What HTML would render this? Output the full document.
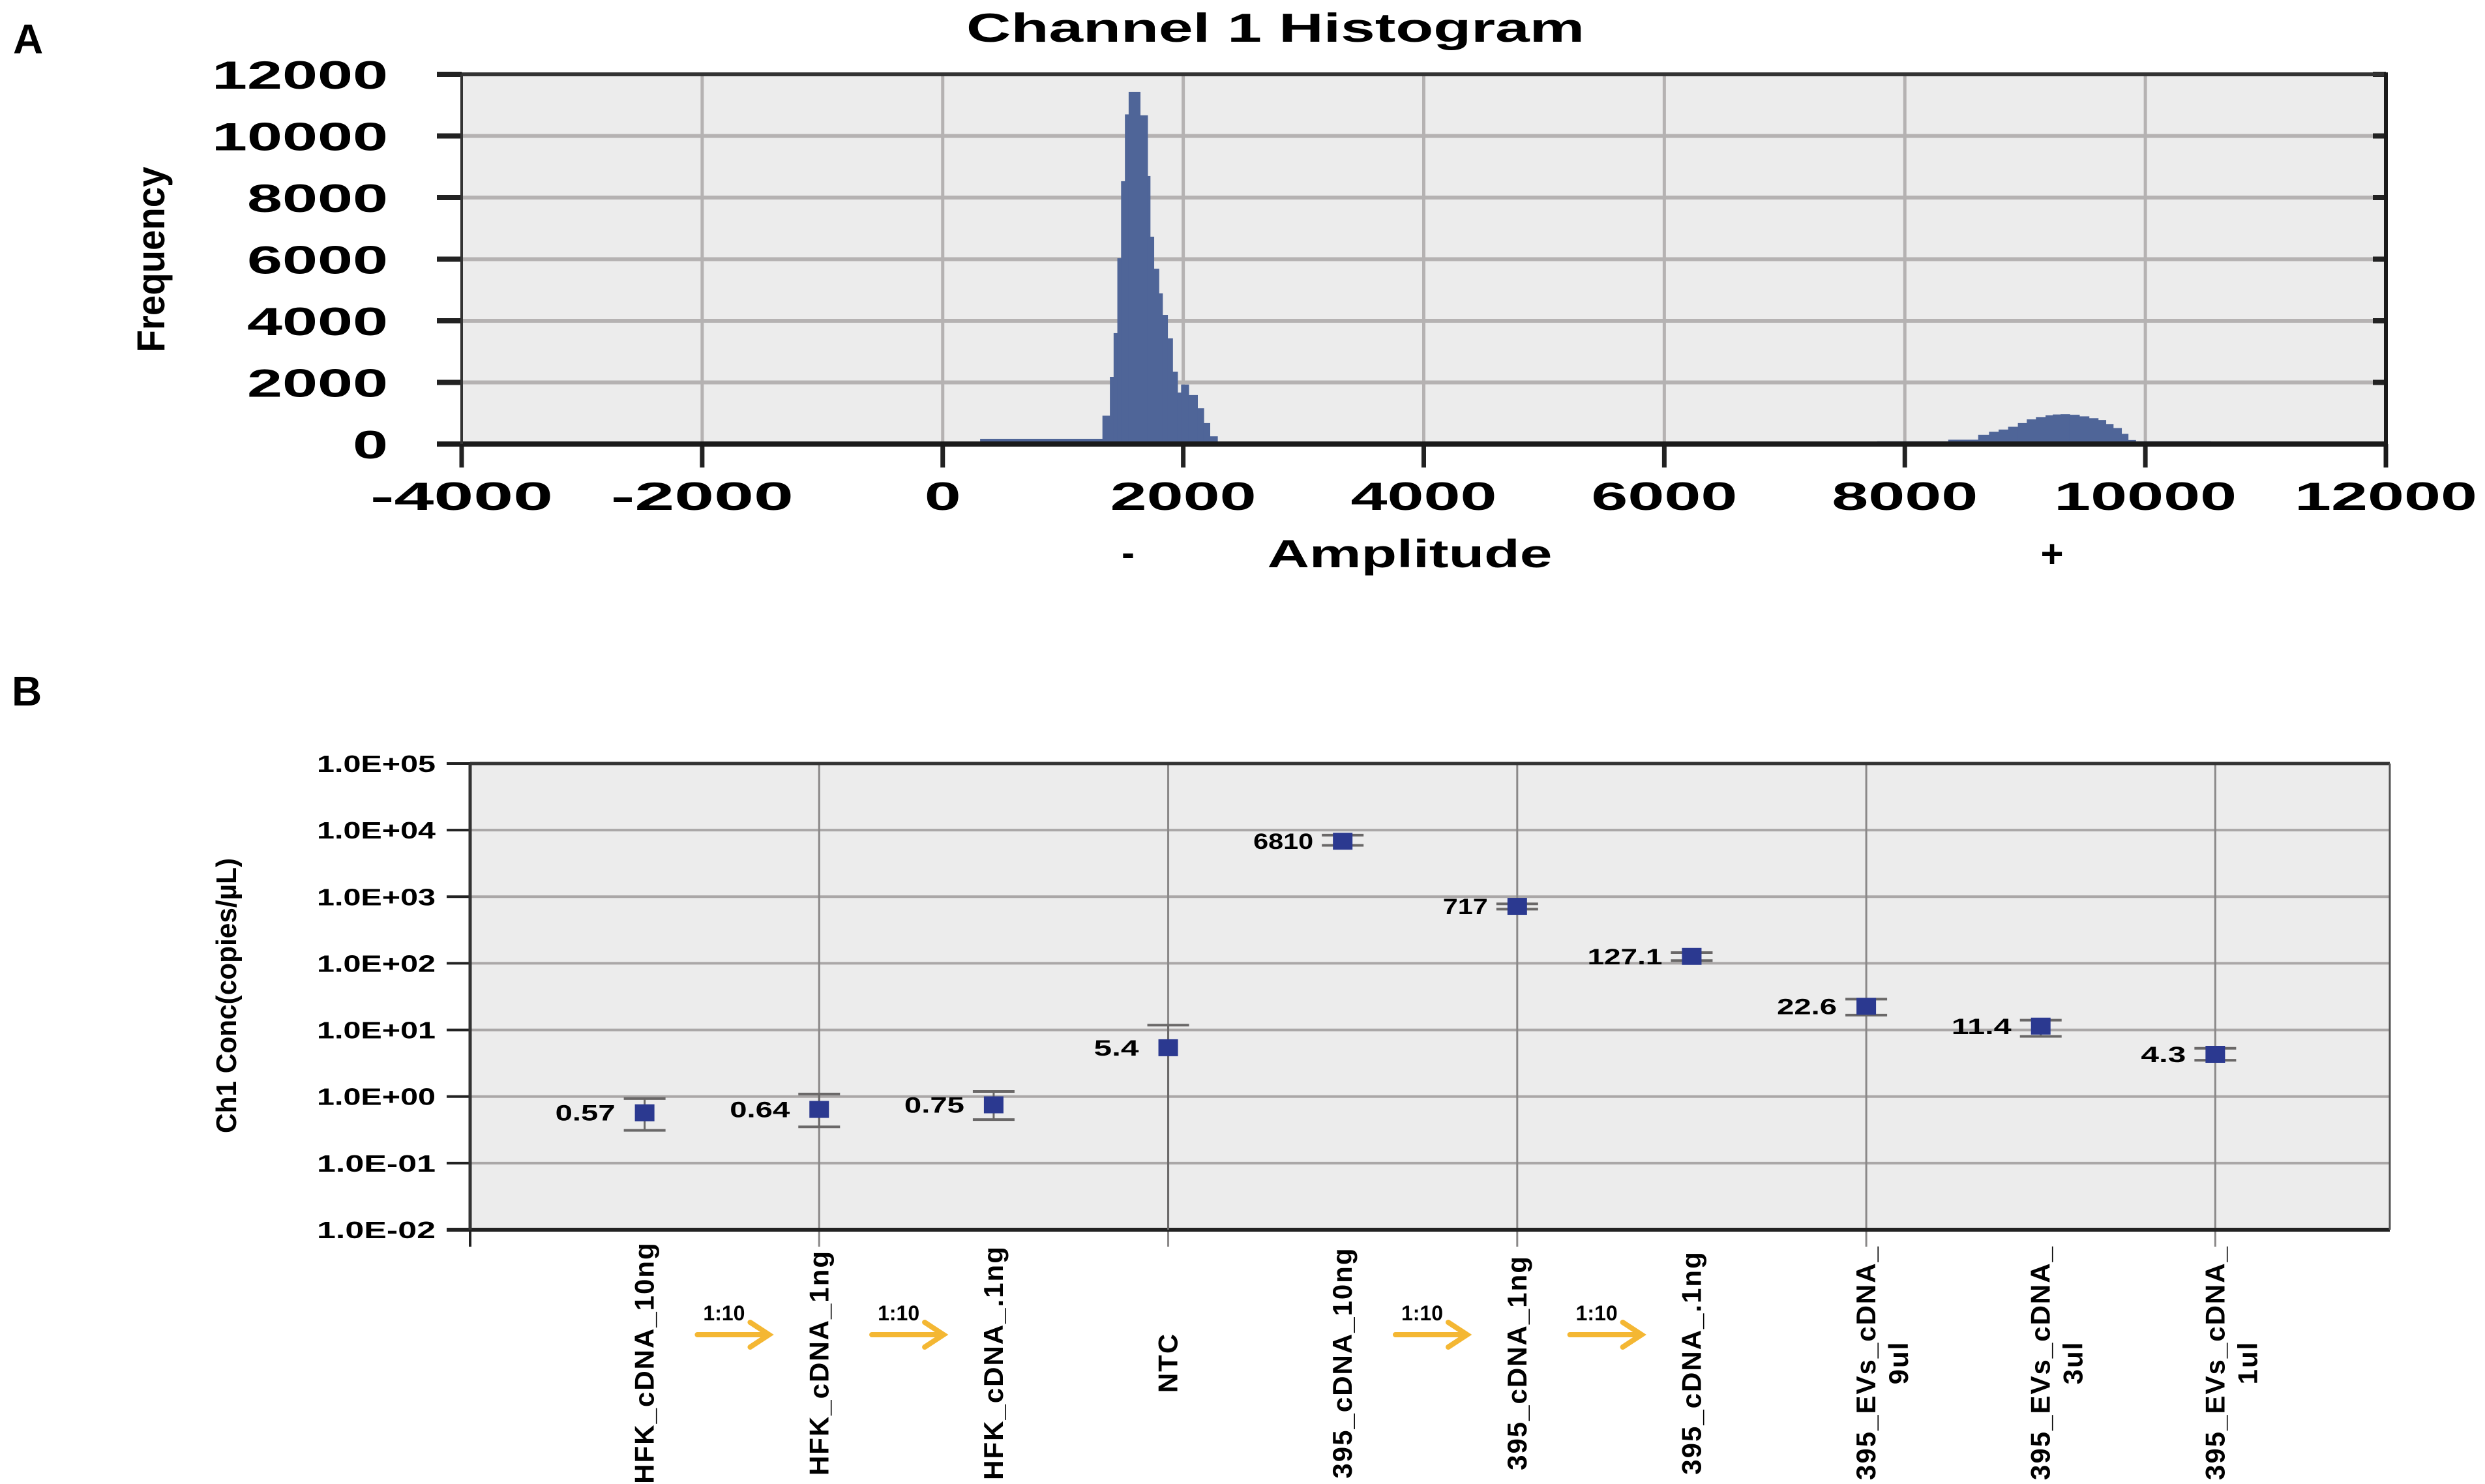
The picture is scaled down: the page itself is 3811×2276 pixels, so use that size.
<!DOCTYPE html>
<html><head><meta charset="utf-8"><style>
html,body{margin:0;padding:0;background:#fff;}
svg{display:block;font-family:"Liberation Sans",sans-serif;}
</style></head><body>
<svg id="fig" width="3811" height="2276" viewBox="0 0 3811 2276">
<text x="20" y="82" font-size="64" font-weight="bold">A</text>
<text x="18" y="1082" font-size="64" font-weight="bold">B</text>
<g id="histo"></g>
<g id="dots"></g>
</svg>
<script>
// ---------- Panel A data ----------
const histXTicks = [-4000,-2000,0,2000,4000,6000,8000,10000,12000];
const histYTicks = [0,2000,4000,6000,8000,10000,12000];
const binStart = [311,1328,1390,1421,1452,1483,1515,1546,1640,1702,1723,1754,1796,1826,1868,1910,1951,1982,2044,2117,2169,2220,2283,2449,
  7770,8361,8610,8700,8780,8859,8940,9014,9090,9170,9230,9295,9370,9450,9530,9606,9670,9731,9800,9855,9918,10540];
const binFreq = [170,920,2180,3600,6030,8530,10700,11430,10670,8700,6730,5690,4890,4190,3430,2350,1670,1930,1590,1160,680,250,80,0,
  90,140,300,400,470,560,680,800,870,930,960,970,950,900,840,780,650,520,330,130,90,0];

// ---------- Panel B data ----------
const categories = ["HFK_cDNA_10ng","HFK_cDNA_1ng","HFK_cDNA_.1ng","NTC","395_cDNA_10ng","395_cDNA_1ng","395_cDNA_.1ng","395_EVs_cDNA_|9ul","395_EVs_cDNA_|3ul","395_EVs_cDNA_|1ul"];
const concValues = [0.57,0.64,0.75,5.4,6810,717,127.1,22.6,11.4,4.3];
const concLabels = ["0.57","0.64","0.75","5.4","6810","717","127.1","22.6","11.4","4.3"];
const errLow = [0.31,0.35,0.45,0.005,5900,650,110,16.7,8.0,3.5];
const errHigh = [0.93,1.09,1.19,11.8,8400,780,145,29,14,5.3];
const logTicks = [-2,-1,0,1,2,3,4,5];
const logTickLabels = ["1.0E-02","1.0E-01","1.0E+00","1.0E+01","1.0E+02","1.0E+03","1.0E+04","1.0E+05"];
const dilutionPairs = [[0,1],[1,2],[4,5],[5,6]];

const NS="http://www.w3.org/2000/svg";
function mk(parent,tag,attrs,text){const e=document.createElementNS(NS,tag);for(const k in attrs)e.setAttribute(k,attrs[k]);if(text!==undefined)e.textContent=text;parent.appendChild(e);return e;}

// ---------- Panel A ----------
(function(){
const g=document.getElementById('histo');
const L=708,R=3659,T=114,B=681;
const xs=a=>L+(a-(-4000))/16000*(R-L);
const ys=f=>B-f/12000*(B-T);
let e=mk(g,'rect',{x:L,y:T,width:R-L,height:B-T,fill:'#ececec'});

histYTicks.forEach(v=>{
  if(v>0&&v<12000){e=mk(g,'line',{x1:L,x2:R,y1:ys(v),y2:ys(v),stroke:'#b5b2b2','stroke-width':6});
  }
  e=mk(g,'line',{x1:L-38,x2:L,y1:ys(v),y2:ys(v),stroke:'#222','stroke-width':8});
  
  e=mk(g,'line',{x1:R-20,x2:R,y1:ys(v),y2:ys(v),stroke:'#222','stroke-width':8});
  
  const s=String(v);
  e=mk(g,'text',{x:595,y:ys(v)+22,'text-anchor':'end','font-size':60,'font-weight':'bold',textLength:s.length*54,lengthAdjust:'spacingAndGlyphs'},s);
  
});
histXTicks.forEach(v=>{
  if(v>-4000&&v<12000){e=mk(g,'line',{x1:xs(v),x2:xs(v),y1:T,y2:B,stroke:'#b5b2b2','stroke-width':5});
  }
  e=mk(g,'line',{x1:xs(v),x2:xs(v),y1:B,y2:B+36,stroke:'#222','stroke-width':7});
  
  const s=String(v);
  e=mk(g,'text',{x:xs(v),y:782,'text-anchor':'middle','font-size':60,'font-weight':'bold',textLength:s.length*56,lengthAdjust:'spacingAndGlyphs'},s);
  
});
for(let i=0;i<binStart.length-1;i++){
  if(binFreq[i]<=0)continue;
  const x0=xs(binStart[i]),x1=xs(binStart[i+1]);
  e=mk(g,'rect',{x:x0,y:ys(binFreq[i]),width:x1-x0+0.8,height:B-ys(binFreq[i]),fill:'#4f6598'});
  
}
e=mk(g,'line',{x1:L,x2:R,y1:T,y2:T,stroke:'#333','stroke-width':6});

e=mk(g,'line',{x1:L-38,x2:R,y1:B,y2:B,stroke:'#1a1a1a','stroke-width':8});

e=mk(g,'line',{x1:L,x2:L,y1:T,y2:B,stroke:'#333','stroke-width':4});

e=mk(g,'line',{x1:R,x2:R,y1:T-3,y2:B+36,stroke:'#1a1a1a','stroke-width':6});

e=mk(g,'text',{x:1956,y:64,'text-anchor':'middle','font-size':62,'font-weight':'bold',textLength:948,lengthAdjust:'spacingAndGlyphs'},'Channel 1 Histogram');

e=mk(g,'text',{x:2162,y:870,'text-anchor':'middle','font-size':60,'font-weight':'bold',textLength:437,lengthAdjust:'spacingAndGlyphs'},'Amplitude');

e=mk(g,'text',{x:1730,y:868,'text-anchor':'middle','font-size':60,'font-weight':'bold'},'-');

e=mk(g,'text',{x:3147,y:870,'text-anchor':'middle','font-size':60,'font-weight':'bold'},'+');

e=mk(g,'text',{x:0,y:0,'text-anchor':'middle','font-size':60,'font-weight':'bold',textLength:285,lengthAdjust:'spacingAndGlyphs',transform:'translate(252,398) rotate(-90)'},'Frequency');

})();

// ---------- Panel B ----------
(function(){
const g=document.getElementById('dots');
const L=721,R=3665,T=1171,B=1886;
const ys=v=>B-(Math.log10(v)-(-2))/7*(B-T);
const xc=i=>L+(i+1)*(R-L)/11;
let e=mk(g,'rect',{x:L,y:T,width:R-L,height:B-T,fill:'#ececec'});

logTicks.forEach((p,k)=>{
  const y=ys(Math.pow(10,p));
  if(p>-2&&p<5){e=mk(g,'line',{x1:L,x2:R,y1:y,y2:y,stroke:'#aaa7a7','stroke-width':4});
  }
  e=mk(g,'line',{x1:L-36,x2:L,y1:y,y2:y,stroke:'#222','stroke-width':4});
  
  e=mk(g,'text',{x:668,y:y+13,'text-anchor':'end','font-size':36,'font-weight':'bold',textLength:182,lengthAdjust:'spacingAndGlyphs'},logTickLabels[k]);
  
});
categories.forEach((c,i)=>{
  const x=xc(i);
  if(i%2===1){e=mk(g,'line',{x1:x,x2:x,y1:T,y2:B+26,stroke:'#8a8888','stroke-width':3});
  }
  const parts=c.split('|');
  parts.forEach((p,j)=>{
    e=mk(g,'text',{x:0,y:0,'text-anchor':'middle','font-size':42,'font-weight':'bold','letter-spacing':2,transform:`translate(${x+14+j*50},2090) rotate(-90)`},p);
    
  });
});
e=mk(g,'line',{x1:L,x2:L,y1:B,y2:B+26,stroke:'#222','stroke-width':4});

e=mk(g,'line',{x1:L,x2:R,y1:T,y2:T,stroke:'#333','stroke-width':5});

e=mk(g,'line',{x1:L-36,x2:R,y1:B,y2:B,stroke:'#222','stroke-width':6});

e=mk(g,'line',{x1:L,x2:L,y1:T,y2:B,stroke:'#333','stroke-width':5});

e=mk(g,'line',{x1:R,x2:R,y1:T,y2:B,stroke:'#555','stroke-width':3});

concValues.forEach((v,i)=>{
  const x=xc(i);
  const yl=Math.min(ys(errLow[i]),B), yh=ys(errHigh[i]);
  e=mk(g,'line',{x1:x,x2:x,y1:yh,y2:yl,stroke:'#6a6868','stroke-width':3});
  
  e=mk(g,'line',{x1:x-32,x2:x+32,y1:yh,y2:yh,stroke:'#6a6868','stroke-width':4});
  
  if(ys(errLow[i])<B){e=mk(g,'line',{x1:x-32,x2:x+32,y1:yl,y2:yl,stroke:'#6a6868','stroke-width':4});
  }
  e=mk(g,'rect',{x:x-15,y:ys(v)-13,width:30,height:26,fill:'#2b3990'});
  
  e=mk(g,'text',{x:x-45,y:ys(v)+12,'text-anchor':'end','font-size':34,'font-weight':'bold',textLength:concLabels[i].length*23,lengthAdjust:'spacingAndGlyphs'},concLabels[i]);
  
});
dilutionPairs.forEach(pr=>{
  const xm=(xc(pr[0])+xc(pr[1]))/2;
  e=mk(g,'text',{x:xm-12,y:2025,'text-anchor':'middle','font-size':32,'font-weight':'bold'},'1:10');
  
  e=mk(g,'path',{d:`M${xm-53} 2047 L${xm+55} 2047 M${xm+28} 2028 L${xm+57} 2047 L${xm+28} 2066`,stroke:'#f4b733','stroke-width':8,fill:'none','stroke-linecap':'round'});
  
});
e=mk(g,'text',{x:0,y:0,'text-anchor':'middle','font-size':44,'font-weight':'bold',textLength:422,lengthAdjust:'spacingAndGlyphs',transform:'translate(362,1527) rotate(-90)'},'Ch1 Conc(copies/µL)');

})();
</script>
</body></html>
